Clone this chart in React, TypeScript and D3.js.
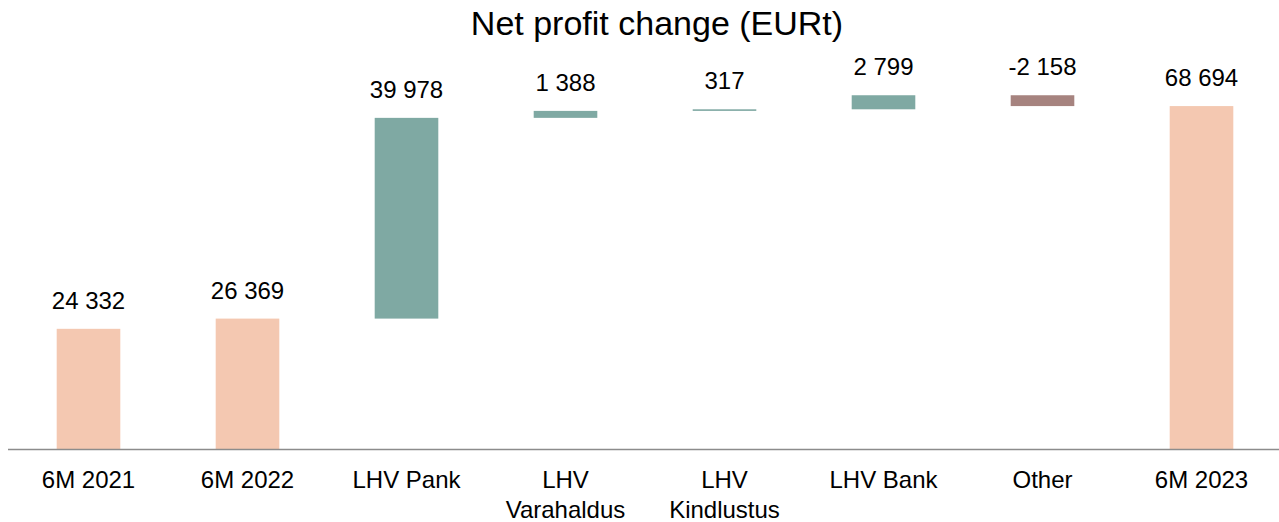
import React from 'react'
import * as d3 from 'd3'

const CATEGORIES = ['6M 2021', '6M 2022', 'LHV Pank', 'LHV Varahaldus', 'LHV Kindlustus', 'LHV Bank', 'Other', '6M 2023']
const VALUES = [24332, 26369, 39978, 1388, 317, 2799, -2158, 68694]
const KINDS = ['total', 'total', 'delta', 'delta', 'delta', 'delta', 'delta', 'total']

const W = 1279
const H = 522
const AXIS_Y = 449.5
const FONT = '"Liberation Sans", Arial, sans-serif'

const COLORS = { total: '#F4C8B1', up: '#7FA9A3', down: '#A6837F' }

const fmt = d3.formatLocale({ decimal: ',', thousands: '\u00a0', grouping: [3], currency: ['', ''], minus: '-' }).format(',d')

// waterfall steps: running total, start/end of each bar
function buildSteps() {
  let run = 0
  return CATEGORIES.map((c, i) => {
    const v = VALUES[i]
    if (KINDS[i] === 'total') {
      run = v
      return { c, v, y0: 0, y1: v, kind: 'total' }
    }
    const y0 = run
    run += v
    return { c, v, y0, y1: run, kind: v >= 0 ? 'up' : 'down' }
  })
}

export default function App() {
  const steps = buildSteps()
  const x = d3.scaleBand().domain(CATEGORIES).range([9, 1281]).padding(0)
  const y = d3.scaleLinear().domain([0, 71000]).range([451, 94.5])
  const bw = x.bandwidth() * 0.4

  return (
    <svg width={W} height={H} style={{ position: 'absolute', left: 0, top: 0, background: '#fff' }}>
      <text x={657} y={35} textAnchor="middle" fontSize={34} fontFamily={FONT} fill="#000">
        Net profit change (EURt)
      </text>
      {steps.map(s => {
        const cx = (x(s.c) ?? 0) + x.bandwidth() / 2
        const top = y(Math.max(s.y0, s.y1))
        const bot = Math.min(y(Math.min(s.y0, s.y1)), AXIS_Y)
        return (
          <g key={s.c}>
            <rect x={cx - bw / 2} y={top} width={bw} height={Math.max(bot - top, 1)}
              fill={COLORS[s.kind as keyof typeof COLORS]} />
            <text x={cx} y={top - 20} textAnchor="middle" fontSize={24} fontFamily={FONT} fill="#000">
              {fmt(s.v)}
            </text>
          </g>
        )
      })}
      <line x1={8} x2={1279} y1={AXIS_Y} y2={AXIS_Y} stroke="#8c8c8c" strokeWidth={1.5} />
      {CATEGORIES.map(c => {
        const cx = (x(c) ?? 0) + x.bandwidth() / 2
        const words = c.startsWith('LHV ') && c !== 'LHV Pank' && c !== 'LHV Bank' ? ['LHV', c.slice(4)] : [c]
        return (
          <text key={c} x={cx} y={488} textAnchor="middle" fontSize={24} fontFamily={FONT} fill="#000">
            {words.map((w, i) => (
              <tspan key={w} x={cx} dy={i === 0 ? 0 : 29.5}>{w}</tspan>
            ))}
          </text>
        )
      })}
    </svg>
  )
}
